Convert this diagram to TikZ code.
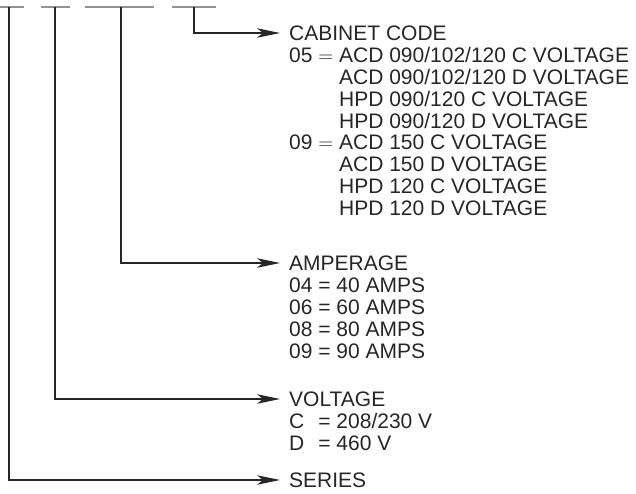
\documentclass[tikz,border=0pt]{standalone}
\usepackage{fontspec}
\setmainfont{Liberation Sans}
\usetikzlibrary{arrows.meta,positioning}

\begin{document}
\begin{tikzpicture}[x=1pt, y=-1pt, font=\fontsize{21}{21.8}\selectfont,
    digit/.style={gray!85, line width=1.8pt},
    feed/.style={black!85, line width=1.2pt,
      -{Stealth[length=23pt, width=9.5pt, inset=6pt]}},
    head/.style={anchor=west, inner xsep=9pt, inner ysep=0pt,
      text height=19pt, text depth=4pt, text=black!85},
    codes/.style={below right=2.5pt and 0pt of #1.south west,
      inner xsep=9pt, inner ysep=0pt, text=black!85}]
  \useasboundingbox (0,0) rectangle (636,493);
  \foreach \n/\a/\b/\x in {1/0/24/9, 2/41/70/55, 3/85/154/121, 4/172/216/194} {
    \draw[digit] (\a,7) -- (\b,7);
    \coordinate (d\n) at (\x,7);
  }
  \node[head] (cab) at (280,33) {CABINET CODE};
  \node[codes=cab] (cab list) {\begin{tabular}{@{}l@{\ }l@{}}
      05 $=$ & ACD 090/102/120 C VOLTAGE\\
             & ACD 090/102/120 D VOLTAGE\\
             & HPD 090/120 C VOLTAGE\\
             & HPD 090/120 D VOLTAGE\\
      09 $=$ & ACD 150 C VOLTAGE\\
             & ACD 150 D VOLTAGE\\
             & HPD 120 C VOLTAGE\\
             & HPD 120 D VOLTAGE
    \end{tabular}};
  \node[head] (amp) at (280,263) {AMPERAGE};
  \node[codes=amp] (amp list) {\begin{tabular}{@{}l@{}}
      04 = 40 AMPS\\ 06 = 60 AMPS\\ 08 = 80 AMPS\\ 09 = 90 AMPS
    \end{tabular}};
  \node[head] (volt) at (280,399) {VOLTAGE};
  \node[codes=volt] (volt list) {\begin{tabular}{@{}l@{}}
      \rlap{C}\hphantom{00} = 208/230 V\\ \rlap{D}\hphantom{00} = 460 V
    \end{tabular}};
  \node[head] (series) at (280,480) {SERIES};
  \draw[feed] (d4) |- (cab);
  \draw[feed] (d3) |- (amp);
  \draw[feed] (d2) |- (volt);
  \draw[feed] (d1) |- (series);
\end{tikzpicture}
\end{document}
